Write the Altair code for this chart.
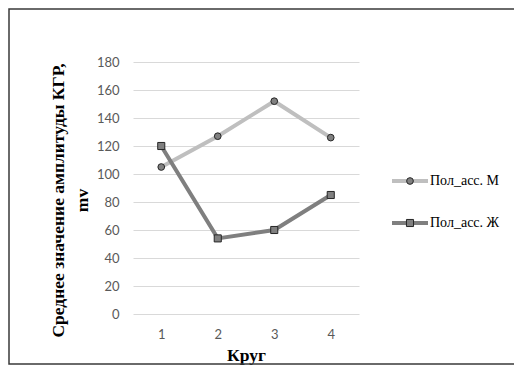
import altair as alt
import pandas as pd

rounds = [1, 2, 3, 4]
series_names = ["Пол_асс. М", "Пол_асс. Ж"]
values_m = [105, 127, 152, 126]
values_f = [120, 54, 60, 85]
y_ticks = [0, 20, 40, 60, 80, 100, 120, 140, 160, 180]

rows = []
for name, vals in zip(series_names, [values_m, values_f]):
    for r, v in zip(rounds, vals):
        rows.append({"Круг": r, "series": name, "value": v})
df = pd.DataFrame(rows)
legend_df = pd.DataFrame({"series": series_names})

color_scale = alt.Scale(domain=series_names, range=["#bfbfbf", "#7f7f7f"])
shape_scale = alt.Scale(domain=series_names, range=["circle", "square"])
size_scale = alt.Scale(domain=series_names, range=[45, 50])

x_enc = alt.X("Круг:O", scale=alt.Scale(type="point", padding=0.5),
              axis=alt.Axis(title="Круг", labelAngle=0, labelPadding=14,
                            titlePadding=5))
y_scale = alt.Scale(domain=[0, 180], nice=False)
y_enc = alt.Y("value:Q", scale=y_scale,
              axis=alt.Axis(title=["Среднее значение амплитуды КГР,", "mv"],
                            values=y_ticks, labelPadding=14, titlePadding=5,
                            titleLineHeight=24, titleY=138, grid=True))

lines = alt.Chart(df).mark_line(strokeWidth=4).encode(
    x=x_enc, y=y_enc,
    color=alt.Color("series:N", scale=color_scale, legend=None),
)

points = alt.Chart(df).mark_point(filled=True, fill="#808080", stroke="#262626",
                                  strokeWidth=1, opacity=1).encode(
    x=x_enc, y=alt.Y("value:Q", scale=y_scale, axis=None),
    shape=alt.Shape("series:N", scale=shape_scale, legend=None),
    size=alt.Size("series:N", scale=size_scale, legend=None),
)

# legend built from the series list
leg_y = alt.Y("series:N", scale=alt.Scale(domain=series_names, range=[119, 161],
                                          type="point", padding=0), axis=None)
leg_line = alt.Chart(legend_df).mark_rule(strokeWidth=4).encode(
    x=alt.value(259), x2=alt.value(295), y=leg_y,
    color=alt.Color("series:N", scale=color_scale, legend=None),
)
leg_pt = alt.Chart(legend_df).mark_point(filled=True, fill="#808080", stroke="#262626",
                                         strokeWidth=1, opacity=1).encode(
    x=alt.value(277), y=leg_y,
    shape=alt.Shape("series:N", scale=shape_scale, legend=None),
    size=alt.Size("series:N", scale=size_scale, legend=None),
)
leg_txt = alt.Chart(legend_df).mark_text(
    align="left", baseline="middle", font="Liberation Serif", fontSize=14, color="#000000"
).encode(x=alt.value(297), y=leg_y, text="series:N")

frame = alt.Chart(pd.DataFrame({"a": [0]})).mark_rect(
    fill=None, fillOpacity=0, stroke="#3a3a3a", strokeWidth=1.5
).encode(x=alt.value(-124), x2=alt.value(384), y=alt.value(-53), y2=alt.value(302))

chart = alt.layer(lines, points, leg_line, leg_pt, leg_txt, frame).resolve_scale(
    y="independent"
).properties(
    width=226, height=252,
    autosize=alt.AutoSizeParams(type="none"),
    padding={"left": 125, "top": 54, "right": 155, "bottom": 52},
).configure_view(stroke=None).configure_axis(
    domain=False, ticks=False, gridColor="#d9d9d9", gridWidth=1,
    labelFont="Lato", labelFontSize=13, labelColor="#595959",
    titleFont="Liberation Serif", titleFontSize=17.5, titleFontWeight="bold",
    titleColor="#000000",
).configure_axisX(grid=False)

chart.save("out.html", embed_options={"renderer": "svg", "actions": False})
